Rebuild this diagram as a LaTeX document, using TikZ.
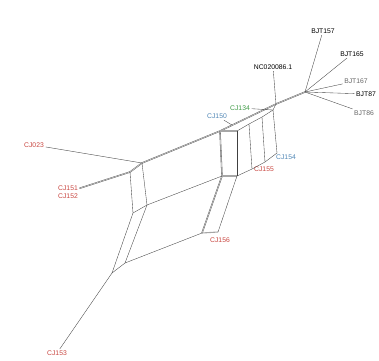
\documentclass[tikz,border=0pt]{standalone}
\usepackage{fontspec}
\setmainfont{Liberation Sans}
\usepackage{xcolor}
\usepackage{tikz}
\definecolor{nred}{HTML}{C8453F}
\definecolor{ngreen}{HTML}{3E9A45}
\definecolor{nblue}{HTML}{4F86B5}
\tikzset{
  nedge/.style={draw=black!75, line width=0.35pt},
  nsplit/.style={draw=black!70, line width=0.3pt, double=black!22,
                 double distance=0.7pt},
  nbar/.style={draw=black!35, line width=1.1pt},
  nlbl/.style={font=\fontsize{6.8}{7.5}\selectfont, inner sep=1.5pt},
  ncj/.style={nlbl, text=nred},
  nfaint/.style={nlbl, text=black!60},
}
\begin{document}
\begin{tikzpicture}[x=1pt,y=-1pt]
  \useasboundingbox (0,0) rectangle (379,360);

  % junctions
  \coordinate (hub) at (305,92);
  \coordinate (nc)  at (276,104);
  \coordinate (p150) at (232,125);
  \coordinate (t0) at (220,131);
  \coordinate (t1) at (237,131);
  \coordinate (t2) at (249,124);
  \coordinate (t3) at (262,117);
  \coordinate (t4) at (273,110);
  \coordinate (e0) at (222,176);
  \coordinate (e1) at (237,176);
  \coordinate (b2) at (252,169);
  \coordinate (b3) at (265,162);
  \coordinate (b4) at (277,153);
  \coordinate (l0) at (202,233);
  \coordinate (l1) at (218,232);
  \coordinate (c0) at (142,163);
  \coordinate (c1) at (130,172);
  \coordinate (d0) at (147,205);
  \coordinate (d1) at (133,213);
  \coordinate (g0) at (125,263);
  \coordinate (g1) at (112,273);

  % taxa
  \node[nlbl]   (x157) at (323,31)  {BJT157};
  \node[nlbl]   (x165) at (352,54)  {BJT165};
  \node[nfaint] (x167) at (356,81)  {BJT167};
  \node[nlbl]   (x87)  at (366,94)  {BJT87};
  \node[nfaint] (x86)  at (364,113) {BJT86};
  \node[nlbl]   (xnc)  at (273,67)  {NC020086.1};
  \node[nlbl, text=ngreen] (x134) at (240,108) {CJ134};
  \node[nlbl, text=nblue]  (x150) at (217,116) {CJ150};
  \node[nlbl, text=nblue]  (x154) at (286,157) {CJ154};
  \node[ncj] (x155) at (264,169) {CJ155};
  \node[ncj] (x156) at (220,240) {CJ156};
  \node[ncj] (x023) at (34,145)  {CJ023};
  \node[ncj, align=right] (x151) at (68,192) {CJ151\\CJ152};
  \node[ncj] (x153) at (57,353)  {CJ153};

  % long splits
  \draw[nsplit] (c1) -- (c0) -- (t0) -- (nc) -- (hub);
  \draw[nsplit] (c1) -- (x151);
  \draw[nsplit] (t0) -- (e0);
  \draw[nsplit] (e0) -- (l0);

  % box
  \draw[nbar] (t0) -- (t1);
  \draw[nbar] (e0) -- (e1);
  \draw[nbar] (l0) -- (l1);
  \draw[nedge] (t1) -- (t2) -- (t3) -- (t4) -- (nc);
  \draw[nedge] (e1) -- (b2) -- (b3) -- (b4);
  \foreach \a/\b in {t1/e1, t2/b2, t3/b3, t4/b4, e1/l1}
    \draw[nedge] (\a) -- (\b);

  % left part
  \foreach \a/\b in {c0/d0, c1/d1, d0/d1, d0/e0, d0/g0, d1/g1, g0/g1, g0/l0}
    \draw[nedge] (\a) -- (\b);

  % leaves
  \foreach \a/\b in {hub/x157, hub/x165, hub/x167, hub/x87, hub/x86,
                     nc/xnc, p150/x150, t4/x134, c0/x023, g1/x153}
    \draw[nedge] (\a) -- (\b);

\end{tikzpicture}
\end{document}
